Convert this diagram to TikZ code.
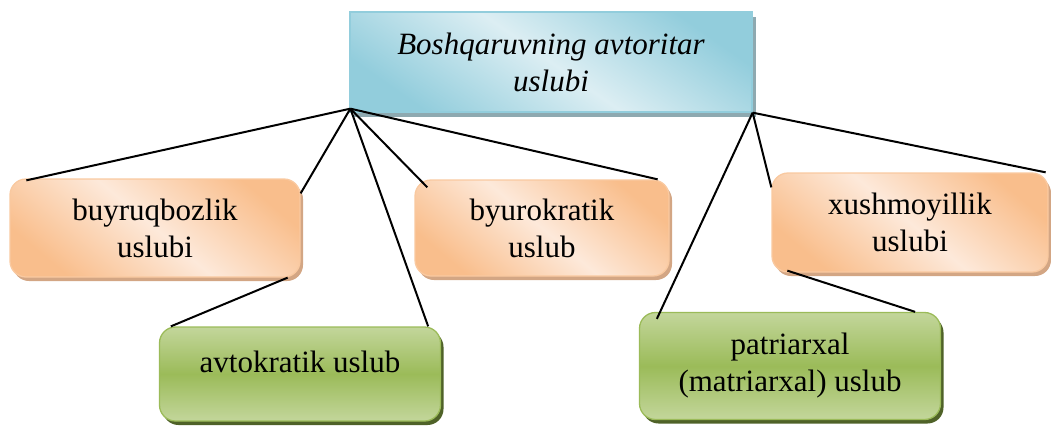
\documentclass[tikz,border=0pt]{standalone}
\usepackage{fontspec}
\setmainfont{Liberation Serif}
\usetikzlibrary{shadows}
\definecolor{blueD}{HTML}{92CDDC}
\definecolor{blueL}{HTML}{DCEEF3}
\definecolor{blueS}{HTML}{8EA9B0}
\definecolor{orD}{HTML}{F9BE8C}
\definecolor{orL}{HTML}{FDE9DA}
\definecolor{orB}{HTML}{F9C9A0}
\definecolor{orS}{HTML}{D3A684}
\definecolor{grD}{HTML}{9BBB59}
\definecolor{grL}{HTML}{C3D69B}
\definecolor{grS}{HTML}{4F6228}
\tikzset{
  box/.style={rectangle, rounded corners=16pt, line width=1.3pt, align=center,
    font=\fontsize{31}{37}\selectfont},
  topbox/.style={box, rounded corners=0pt, draw=blueD, top color=blueD, bottom color=blueD,
    middle color=blueL, shading angle=-35, font=\fontsize{31}{37}\selectfont\itshape,
    drop shadow={shadow xshift=4pt, shadow yshift=-5pt, fill=blueS, opacity=1}},
  orbox/.style={box, draw=orB, top color=orD, bottom color=orD, middle color=orL,
    shading angle=-40, drop shadow={shadow xshift=3pt, shadow yshift=-4pt, fill=orS, opacity=1}},
  grbox/.style={box, draw=grD, top color=grL, bottom color=grL, middle color=grD,
    drop shadow={shadow xshift=3pt, shadow yshift=-4pt, fill=grS, opacity=1}},
  link/.style={line width=2pt}
}

\begin{document}
\begin{tikzpicture}[x=1pt, y=-1pt]
  \useasboundingbox (0,0) rectangle (1051,426);
  \node (avtoritar) [topbox, minimum width=402pt, minimum height=100pt] at (551,62)
    {Boshqaruvning avtoritar\\uslubi};
  \node (buyruq) [orbox, minimum width=290pt, minimum height=98pt] at (155,228)
    {buyruqbozlik\\uslubi};
  \node (byuro) [orbox, minimum width=254pt, minimum height=96pt] at (542,228)
    {byurokratik\\uslub};
  \node (xush) [orbox, minimum width=276pt, minimum height=99pt] at (910,222.5)
    {xushmoyillik\\uslubi};
  \node (avtokrat) [grbox, minimum width=281pt, minimum height=94pt,
    text height=21pt, text depth=25pt] at (300,374) {avtokratik uslub};
  \node (patri) [grbox, minimum width=301pt, minimum height=107pt] at (790,366)
    {patriarxal\\(matriarxal) uslub};

  \coordinate (apexL) at ([xshift=1pt, yshift=4pt]avtoritar.south west);
  \coordinate (apexR) at (avtoritar.south east);
  \draw[link] (apexL) -- ([xshift=17pt, yshift=-2pt]buyruq.north west);
  \draw[link] (apexL) -- ([yshift=-15pt]buyruq.north east);
  \draw[link] (apexL) -- ([xshift=-13pt]avtokrat.north east);
  \draw[link] (apexL) -- ([xshift=13pt, yshift=-8pt]byuro.north west);
  \draw[link] (apexL) -- ([xshift=-12pt]byuro.north east);
  \draw[link] ([xshift=-13pt]buyruq.south east) -- ([xshift=12pt]avtokrat.north west);
  \draw[link] (apexR) -- ([xshift=18pt, yshift=-7pt]patri.north west);
  \draw[link] (apexR) -- ([yshift=-15pt]xush.north west);
  \draw[link] (apexR) -- ([xshift=-3pt]xush.north east);
  \draw[link] ([xshift=16pt, yshift=2pt]xush.south west) -- ([xshift=-26pt]patri.north east);
\end{tikzpicture}
\end{document}
